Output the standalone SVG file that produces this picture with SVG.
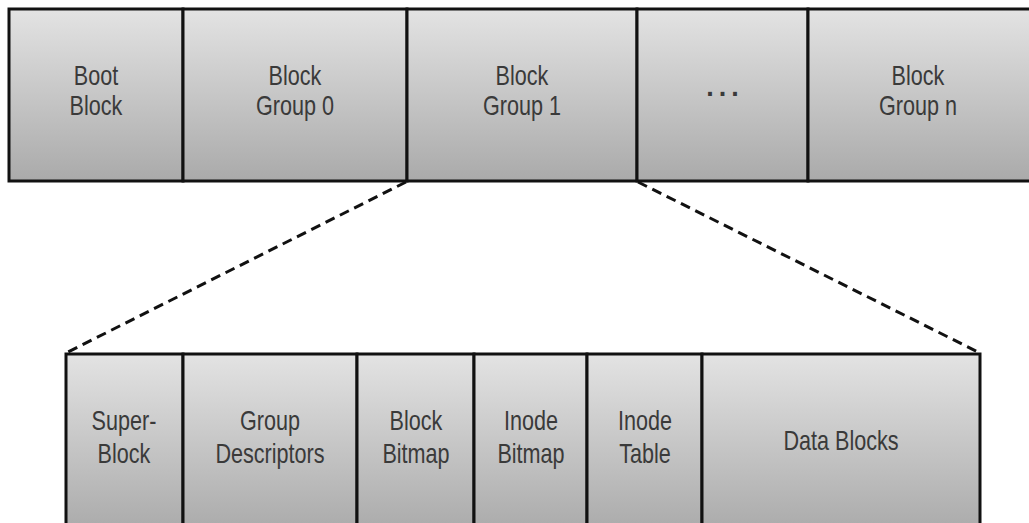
<svg xmlns="http://www.w3.org/2000/svg" width="1029" height="523" viewBox="0 0 1029 523">
  <defs>
    <linearGradient id="g" x1="0" y1="0" x2="0" y2="1">
      <stop offset="0" stop-color="#e3e3e3"/>
      <stop offset="1" stop-color="#aaaaaa"/>
    </linearGradient>
    <linearGradient id="g2" gradientUnits="userSpaceOnUse" x1="0" y1="354" x2="0" y2="523">
      <stop offset="0" stop-color="#e3e3e3"/>
      <stop offset="1" stop-color="#adadad"/>
    </linearGradient>
    <style>
      .cell { fill: url(#g); stroke: #111; stroke-width: 3; }
      .cell2 { fill: url(#g2); stroke: #111; stroke-width: 3; }
      .t { font-family: "Liberation Sans Narrow", "Liberation Sans", Arial, sans-serif; font-size: 27px; fill: #3a3a3a; text-anchor: middle; }
      .dots { letter-spacing: 5px; font-weight: bold; }
      .dash { fill: none; stroke: #111; stroke-width: 3; stroke-dasharray: 10 6; }
    </style>
  </defs>
  <rect width="1029" height="523" fill="#fff"/>

  <g id="boot-block">
    <rect class="cell" x="9" y="9" width="174" height="172"/>
    <g transform="translate(96 0) scale(0.8 1)">
      <text class="t" x="0" y="85">Boot</text>
      <text class="t" x="0" y="115">Block</text>
    </g>
  </g>
  <g id="block-group-0">
    <rect class="cell" x="183" y="9" width="224" height="172"/>
    <g transform="translate(295 0) scale(0.8 1)">
      <text class="t" x="0" y="85">Block</text>
      <text class="t" x="0" y="115">Group 0</text>
    </g>
  </g>
  <g id="block-group-1">
    <rect class="cell" x="407" y="9" width="230" height="172"/>
    <g transform="translate(522 0) scale(0.8 1)">
      <text class="t" x="0" y="85">Block</text>
      <text class="t" x="0" y="115">Group 1</text>
    </g>
  </g>
  <g id="ellipsis">
    <rect class="cell" x="637" y="9" width="171" height="172"/>
    <text class="t dots" x="725" y="96">...</text>
  </g>
  <g id="block-group-n">
    <rect class="cell" x="808" y="9" width="230" height="172"/>
    <g transform="translate(918 0) scale(0.8 1)">
      <text class="t" x="0" y="85">Block</text>
      <text class="t" x="0" y="115">Group n</text>
    </g>
  </g>

  <g id="connectors">
    <line class="dash" x1="406" y1="182" x2="66" y2="353"/>
    <line class="dash" x1="638" y1="182" x2="980" y2="353"/>
  </g>

  <g id="super-block">
    <rect class="cell2" x="66" y="354" width="117" height="180"/>
    <g transform="translate(124 0) scale(0.8 1)">
      <text class="t" x="0" y="430">Super-</text>
      <text class="t" x="0" y="463">Block</text>
    </g>
  </g>
  <g id="group-descriptors">
    <rect class="cell2" x="183" y="354" width="174" height="180"/>
    <g transform="translate(270 0) scale(0.8 1)">
      <text class="t" x="0" y="430">Group</text>
      <text class="t" x="0" y="463">Descriptors</text>
    </g>
  </g>
  <g id="block-bitmap">
    <rect class="cell2" x="357" y="354" width="117" height="180"/>
    <g transform="translate(416 0) scale(0.8 1)">
      <text class="t" x="0" y="430">Block</text>
      <text class="t" x="0" y="463">Bitmap</text>
    </g>
  </g>
  <g id="inode-bitmap">
    <rect class="cell2" x="474" y="354" width="113" height="180"/>
    <g transform="translate(531 0) scale(0.8 1)">
      <text class="t" x="0" y="430">Inode</text>
      <text class="t" x="0" y="463">Bitmap</text>
    </g>
  </g>
  <g id="inode-table">
    <rect class="cell2" x="587" y="354" width="115" height="180"/>
    <g transform="translate(645 0) scale(0.8 1)">
      <text class="t" x="0" y="430">Inode</text>
      <text class="t" x="0" y="463">Table</text>
    </g>
  </g>
  <g id="data-blocks">
    <rect class="cell2" x="702" y="354" width="278" height="180"/>
    <g transform="translate(841 0) scale(0.8 1)">
      <text class="t" x="0" y="450">Data Blocks</text>
    </g>
  </g>
</svg>
